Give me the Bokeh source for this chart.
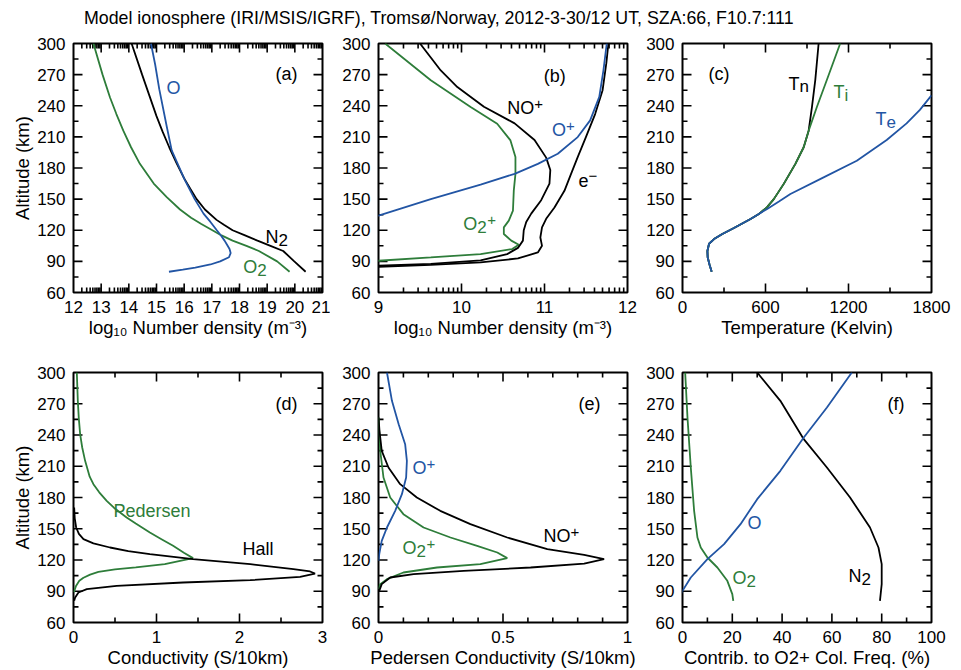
import math
from bokeh.plotting import figure
from bokeh.models import Label, FixedTicker, LinearAxis, Range1d, Div
from bokeh.layouts import column, row
from bokeh.embed import file_html
from bokeh.resources import INLINE

FONT = "Liberation Sans"
BLUE = "#2255a4"
GREEN = "#2e7d3a"
BLACK = "#000000"

TITLE = "Model ionosphere (IRI/MSIS/IGRF), Tromsø/Norway, 2012-3-30/12 UT, SZA:66, F10.7:111"

ALT_TICKS = [60, 90, 120, 150, 180, 210, 240, 270, 300]
ALT_MINOR = [75, 105, 135, 165, 195, 225, 255, 285]

# ---- (a) neutral densities, log10 m^-3
alt_n2_a = [80, 90, 100, 105, 110, 115, 120, 125, 130, 140, 150, 160, 170, 185, 200, 215, 230, 250, 270, 300]
n2_a = [20.39, 19.98, 19.58, 19.12, 18.65, 18.2, 17.75, 17.45, 17.17, 16.75, 16.45, 16.22, 16.0, 15.72, 15.46, 15.22, 15.0, 14.74, 14.48, 14.1]
alt_o_a = [80, 82, 84, 87, 90, 94, 98, 102, 106, 110, 115, 120, 128, 136, 150, 168, 185, 197, 220, 256, 280, 300]
o_a = [15.45, 15.95, 16.4, 16.95, 17.3, 17.62, 17.68, 17.64, 17.55, 17.46, 17.33, 17.18, 16.95, 16.7, 16.38, 16.03, 15.75, 15.55, 15.37, 15.1, 14.95, 14.8]
alt_o2_a = [80, 90, 100, 105, 110, 115, 120, 126, 132, 140, 152, 165, 184, 200, 216, 232, 248, 270, 300]
o2_a = [19.81, 19.36, 18.7, 18.25, 17.75, 17.35, 17.02, 16.62, 16.25, 15.85, 15.37, 14.9, 14.4, 14.08, 13.8, 13.55, 13.32, 13.05, 12.72]

# ---- (b) ion / electron densities, log10 m^-3
alt_nop_b = [84.5, 86, 87.5, 91, 97, 103, 110, 120, 128, 136, 149, 165, 178, 190, 207, 223, 239, 258, 274, 300]
nop_b = [8.5, 9.0, 9.63, 10.23, 10.55, 10.68, 10.74, 10.75, 10.78, 10.84, 10.96, 11.06, 11.07, 11.02, 10.88, 10.64, 10.27, 9.95, 9.75, 9.5]
alt_e_b = [83.5, 84.8, 86.7, 89, 92.8, 98.6, 105, 113, 122.8, 131, 142, 158, 174.4, 190.5, 210, 232, 255, 281, 300]
e_b = [8.5, 9.0, 9.63, 10.23, 10.68, 10.92, 10.97, 10.95, 10.97, 11.02, 11.12, 11.24, 11.32, 11.40, 11.50, 11.61, 11.70, 11.745, 11.77]
alt_op_b = [130, 134, 150, 164, 174.4, 184, 193.7, 209.8, 225.9, 248.5, 274.2, 300]
op_b = [8.84, 9.0, 9.63, 10.23, 10.64, 10.92, 11.16, 11.40, 11.55, 11.66, 11.71, 11.75]
alt_o2p_b = [89, 90.6, 93.8, 97, 101.9, 106, 110, 116.4, 122.8, 129.3, 139, 158.2, 174.4, 190.5, 206.6, 222.7, 238.8, 264.6, 300]
o2p_b = [8.5, 9.0, 9.63, 10.23, 10.61, 10.69, 10.6, 10.51, 10.51, 10.57, 10.62, 10.63, 10.65, 10.65, 10.59, 10.43, 10.11, 9.63, 9.08]

# ---- (c) temperatures, K
alt_te_c = [80, 87, 94, 100, 107, 111.5, 116.4, 122.2, 130.9, 136, 140.5, 148, 155, 171, 187, 207, 223, 236, 250]
te_c = [211, 195, 182, 180, 192, 228, 288, 372, 492, 555, 612, 700, 780, 1020, 1260, 1476, 1620, 1716, 1800]
alt_tn_c = [80, 87, 94, 100, 107, 111.5, 116.4, 122.2, 130.9, 136, 142, 150, 164.7, 184, 200, 216, 239, 265, 300]
tn_c = [211, 195, 182, 180, 192, 228, 288, 372, 492, 555, 610, 660, 732, 816, 876, 912, 936, 960, 984]
alt_ti_c = [80, 87, 94, 100, 107, 111.5, 116.4, 122.2, 130.9, 136, 142, 150, 164.7, 184, 200, 216, 239, 265, 300]
ti_c = [211, 195, 182, 180, 192, 228, 288, 372, 492, 555, 610, 660, 732, 816, 876, 912, 972, 1044, 1140]

# ---- (d) conductivities, S/10km
alt_ped_d = [89, 95, 100, 103, 106, 108.5, 111, 113, 116, 121.8, 127, 133.6, 140, 146.4, 155, 160.8, 170, 176.8, 185, 192.8, 200, 215.2, 228, 240.8, 256, 272.8, 300]
ped_d = [0.005, 0.03, 0.07, 0.12, 0.2, 0.3, 0.5, 0.75, 1.1, 1.44, 1.33, 1.2, 1.06, 0.92, 0.75, 0.64, 0.49, 0.40, 0.31, 0.24, 0.195, 0.14, 0.105, 0.08, 0.064, 0.052, 0.04]
alt_hall_d = [80.8, 84, 88.8, 92, 95.2, 98.4, 100.6, 103.8, 107, 109, 111.2, 116, 120.8, 125.6, 128.5, 132, 136, 140, 145, 151.2, 160, 170.4]
hall_d = [0.008, 0.02, 0.06, 0.16, 0.52, 1.32, 2.13, 2.73, 2.91, 2.85, 2.65, 2.13, 1.44, 0.92, 0.66, 0.44, 0.24, 0.12, 0.065, 0.032, 0.015, 0.008]

# ---- (e) Pedersen conductivity by ion, S/10km
alt_op_e = [119.2, 125.6, 138.4, 151.2, 167.2, 183.2, 199.2, 215.2, 231.2, 250.4, 272.8, 300]
op_e = [0.0, 0.003, 0.013, 0.034, 0.067, 0.094, 0.111, 0.114, 0.107, 0.081, 0.054, 0.034]
alt_nop_e = [90.4, 96.8, 103.2, 106.4, 109.6, 112.8, 116.6, 120.8, 125, 130.4, 141.6, 154.4, 167.2, 180, 192.8, 208.8, 224.8, 244, 256.8]
nop_e = [0.003, 0.013, 0.047, 0.141, 0.342, 0.611, 0.826, 0.906, 0.826, 0.678, 0.517, 0.369, 0.248, 0.154, 0.087, 0.04, 0.013, 0.004, 0.0]
alt_o2p_e = [92, 96.8, 101.6, 108, 112.8, 116, 121.8, 127.2, 133.6, 141.6, 151.2, 164, 180, 199.2, 224.8, 256.8]
o2p_e = [0.0, 0.007, 0.034, 0.1, 0.235, 0.409, 0.517, 0.477, 0.396, 0.289, 0.181, 0.1, 0.047, 0.02, 0.007, 0.0]

# ---- (f) contributions to O2+ collision frequency, %
alt_o2_f = [80.8, 87.2, 100, 112.8, 122.4, 132, 141.6, 167.2, 208.8, 256.8, 300]
o2_f = [20.4, 20.0, 18.0, 14.0, 10.0, 7.33, 6.0, 4.67, 3.33, 2.0, 1.07]
alt_o_f = [88, 90.4, 103.2, 120.8, 135.2, 154.4, 178.4, 205.6, 237.6, 266.4, 300]
o_f = [-0.5, 0.0, 3.33, 10.0, 16.7, 23.3, 30.0, 39.3, 48.7, 58.0, 68.0]
alt_n2_f = [80.8, 96.8, 116, 132, 151.2, 180, 208.8, 236, 272.8, 300]
n2_f = [79.3, 80.0, 80.0, 78.7, 75.3, 67.3, 58.0, 48.7, 39.3, 30.0]


def log_minor(lo, hi):
    return [k + math.log10(m) for k in range(lo, hi) for m in range(2, 10)]


FW = 249
MAJ = 9
MIN = 5


def style_axis(ax):
    ax.major_tick_in = 0
    ax.major_tick_out = 0
    ax.minor_tick_in = 0
    ax.minor_tick_out = 0
    ax.axis_line_color = None
    ax.major_tick_line_color = None
    ax.minor_tick_line_color = None
    ax.major_label_text_font = FONT
    ax.major_label_text_font_size = "17px"
    ax.major_label_text_color = BLACK
    ax.major_label_standoff = 8
    ax.axis_label_text_font = FONT
    ax.axis_label_text_font_size = "18.5px"
    ax.axis_label_text_font_style = "normal"
    ax.axis_label_text_color = BLACK
    ax.axis_label_standoff = 1


def add_ticks(p, xr, fh, xticks, xminor):
    x0, x1 = xr
    dxp = (x1 - x0) / FW
    dyp = 240.0 / fh
    for ticks, L in ((xticks, MAJ), (xminor, MIN)):
        t = [v for v in ticks if x0 < v < x1]
        p.segment(x0=t, y0=[60] * len(t), x1=t, y1=[60 + L * dyp] * len(t), line_color=BLACK, line_width=1.6)
        p.segment(x0=t, y0=[300] * len(t), x1=t, y1=[300 - L * dyp] * len(t), line_color=BLACK, line_width=1.6)
    for ticks, L in ((ALT_TICKS, MAJ), (ALT_MINOR, MIN)):
        t = [v for v in ticks if 60 < v < 300]
        p.segment(x0=[x0] * len(t), y0=t, x1=[x0 + L * dxp] * len(t), y1=t, line_color=BLACK, line_width=1.6)
        p.segment(x0=[x1] * len(t), y0=t, x1=[x1 - L * dxp] * len(t), y1=t, line_color=BLACK, line_width=1.6)


def make_fig(xr, xticks, xminor, xlabel, ylabel, bl, br, bt, bb, fh, overrides=None):
    p = figure(frame_width=FW, frame_height=fh, x_range=Range1d(*xr), y_range=Range1d(60, 300),
               output_backend="svg", toolbar_location=None,
               x_axis_location=None, y_axis_location=None,
               min_border_left=bl, min_border_right=br, min_border_top=bt, min_border_bottom=bb)
    p.grid.grid_line_color = None
    p.outline_line_color = BLACK
    p.outline_line_width = 2
    p.outline_line_alpha = 1
    p.background_fill_color = "white"
    p.border_fill_color = "white"
    bottom = LinearAxis(ticker=FixedTicker(ticks=xticks, minor_ticks=[]), axis_label=xlabel)
    style_axis(bottom)
    if overrides:
        bottom.major_label_overrides = overrides
    left = LinearAxis(ticker=FixedTicker(ticks=ALT_TICKS, minor_ticks=[]), axis_label=ylabel)
    style_axis(left)
    p.add_layout(bottom, "below")
    p.add_layout(left, "left")
    add_ticks(p, xr, fh, xticks, xminor)
    return p


def add_text(p, x, y, parts, color=BLACK):
    for txt, dx, dy, size in parts:
        p.add_layout(Label(x=x, y=y, x_offset=dx, y_offset=dy, text=txt, text_font=FONT,
                           text_font_size=f"{size}px", text_color=color,
                           text_align="left", text_baseline="middle"))


LW = 1.8
XLAB_N = "log\u2081\u2080 Number density (m\u207b\u00b3)"

# (a)
pa = make_fig((12, 21), list(range(12, 22)), log_minor(12, 21), XLAB_N, "Altitude (km)", 73, 8, 10, 50, 249)
pa.line(o2_a, alt_o2_a, line_color=GREEN, line_width=LW)
pa.line(n2_a, alt_n2_a, line_color=BLACK, line_width=LW)
pa.line(o_a, alt_o_a, line_color=BLUE, line_width=LW)
add_text(pa, 19.30, 270.6, [("(a)", 0, 0, 18)])
add_text(pa, 15.36, 257.1, [("O", 0, 0, 18)], BLUE)
add_text(pa, 18.94, 113.5, [("N", 0, 0, 18), ("2", 13, -3, 17)])
add_text(pa, 18.14, 84.4, [("O", 0, 0, 18), ("2", 14, -3, 17)], GREEN)

# (b)
pb = make_fig((9, 12), [9, 10, 11, 12], log_minor(9, 12), XLAB_N, None, 48, 13, 10, 50, 249)
pb.line(o2p_b, alt_o2p_b, line_color=GREEN, line_width=LW)
pb.line(nop_b, alt_nop_b, line_color=BLACK, line_width=LW)
pb.line(e_b, alt_e_b, line_color=BLACK, line_width=LW)
pb.line(op_b, alt_op_b, line_color=BLUE, line_width=LW)
add_text(pb, 10.99, 268.4, [("(b)", 0, 0, 18)])
add_text(pb, 10.55, 237.8, [("NO", 0, 0, 18), ("+", 27, 4, 15)])
add_text(pb, 11.09, 216.9, [("O", 0, 0, 18), ("+", 14, 4, 15)], BLUE)
add_text(pb, 11.41, 167.5, [("e", 0, 0, 18), ("\u2212", 10, 5, 15)])
add_text(pb, 10.02, 126.2, [("O", 0, 0, 18), ("2", 14, -3, 17), ("+", 24, 4, 15)], GREEN)

# (c)
pc = make_fig((0, 1800), [0, 600, 1200, 1800], [300, 900, 1500], "Temperature (Kelvin)", None, 42, 24, 10, 50, 249)
pc.line(tn_c, alt_tn_c, line_color=BLACK, line_width=LW)
pc.line(ti_c, alt_ti_c, line_color=GREEN, line_width=LW)
pc.line(te_c, alt_te_c, line_color=BLUE, line_width=LW)
add_text(pc, 188, 270.8, [("(c)", 0, 0, 18)])
add_text(pc, 766, 261.2, [("T", 0, 0, 18), ("n", 11, -3, 17)])
add_text(pc, 1092, 253.1, [("T", 0, 0, 18), ("i", 11, -3, 17)], GREEN)
add_text(pc, 1395, 227.4, [("T", 0, 0, 18), ("e", 11, -3, 17)], BLUE)

# (d)
pd_ = make_fig((0, 3), [0, 1, 2, 3], [0.5, 1.5, 2.5], "Conductivity (S/10km)", "Altitude (km)", 73, 8, 30, 46, 250)
pd_.line(ped_d, alt_ped_d, line_color=GREEN, line_width=LW)
pd_.line(hall_d, alt_hall_d, line_color=BLACK, line_width=LW)
add_text(pd_, 2.434, 269.3, [("(d)", 0, 0, 18)])
add_text(pd_, 0.482, 167.5, [("Pedersen", 0, 0, 18)], GREEN)
add_text(pd_, 2.036, 130.1, [("Hall", 0, 0, 18)])

# (e)
pe = make_fig((0, 1), [0, 0.5, 1], [0.1, 0.2, 0.3, 0.4, 0.6, 0.7, 0.8, 0.9], "Pedersen Conductivity (S/10km)", None,
              48, 13, 30, 46, 250, overrides={0: "0", 0.5: "0.5", 1: "1"})
pe.line(o2p_e, alt_o2p_e, line_color=GREEN, line_width=LW)
pe.line(nop_e, alt_nop_e, line_color=BLACK, line_width=LW)
pe.line(op_e, alt_op_e, line_color=BLUE, line_width=LW)
add_text(pe, 0.803, 270.2, [("(e)", 0, 0, 18)])
add_text(pe, 0.1365, 208.8, [("O", 0, 0, 18), ("+", 14, 4, 15)], BLUE)
add_text(pe, 0.663, 142.8, [("NO", 0, 0, 18), ("+", 27, 4, 15)])
add_text(pe, 0.0964, 131.5, [("O", 0, 0, 18), ("2", 14, -3, 17), ("+", 24, 4, 15)], GREEN)

# (f)
pf = make_fig((0, 100), [0, 20, 40, 60, 80, 100], [10, 30, 50, 70, 90], "Contrib. to O2+ Col. Freq. (%)", None,
              42, 24, 30, 46, 250)
pf.line(o2_f, alt_o2_f, line_color=GREEN, line_width=LW)
pf.line(n2_f, alt_n2_f, line_color=BLACK, line_width=LW)
pf.line(o_f, alt_o_f, line_color=BLUE, line_width=LW)
add_text(pf, 82.3, 270.2, [("(f)", 0, 0, 18)])
add_text(pf, 26.1, 156.0, [("O", 0, 0, 18)], BLUE)
add_text(pf, 20.1, 103.2, [("O", 0, 0, 18), ("2", 14, -3, 17)], GREEN)
add_text(pf, 66.7, 105.1, [("N", 0, 0, 18), ("2", 13, -3, 17)])

title = Div(text=f'<div style="padding-left:84px;padding-top:8px;font-family:\'{FONT}\';font-size:17.8px;line-height:20px;color:black;white-space:nowrap">{TITLE}</div>',
            width=955, height=33, margin=0)

layout = column(title, row(pa, pb, pc), row(pd_, pe, pf))

with open("out.html", "w", encoding="utf-8") as f:
    f.write(file_html(layout, INLINE))
